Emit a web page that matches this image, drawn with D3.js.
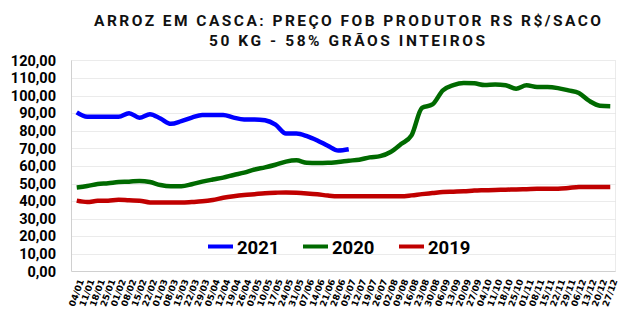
<!DOCTYPE html>
<html>
<head>
<meta charset="utf-8">
<script src="https://cdn.jsdelivr.net/npm/d3@7"></script>
<style>
  html, body { margin: 0; padding: 0; background: #fff; }
  svg { display: block; }
</style>
</head>
<body>
<svg id="chart" width="644" height="329"></svg>
<script>
// Weekly dates (dd/mm)
const weeks = ["04/01","11/01","18/01","25/01","01/02","08/02","15/02","22/02","01/03","08/03","15/03","22/03","29/03","05/04","12/04","19/04","26/04","03/05","10/05","17/05","24/05","31/05","07/06","14/06","21/06","28/06","05/07","12/07","19/07","26/07","02/08","09/08","16/08","23/08","30/08","06/09","13/09","20/09","27/09","04/10","11/10","18/10","25/10","01/11","08/11","15/11","22/11","29/11","06/12","13/12","20/12","27/12"];

// R$ per 50 kg sack
const price2021 = [90.5,88,88,88,88,90,87.5,89.5,87,84,85.5,87.5,89,89,89,87.5,86.5,86.5,86,83.5,78.5,78.5,77,74.5,71.5,68.8,69.5];
const price2020 = [47.8,48.6,49.8,50.2,50.9,51.1,51.5,50.9,49.2,48.5,48.5,49.6,51.1,52.3,53.4,54.9,56.2,58,59.2,60.7,62.5,63.2,61.8,61.7,61.8,62.3,63,63.6,64.9,65.6,68,72.5,77.4,93,95,103,106,107.2,107,106,106.4,105.9,104,105.9,104.9,104.9,104.3,103,101.5,97,94.3,94];
const price2019 = [40.3,39.5,40.2,40.3,40.8,40.5,40.3,39.3,39.2,39.2,39.2,39.5,39.9,40.7,41.9,42.8,43.5,44,44.5,44.8,45,44.8,44.4,43.9,43.2,42.8,42.8,42.8,42.8,42.8,42.8,42.8,43.3,44,44.6,45.2,45.4,45.6,46,46.2,46.4,46.5,46.7,46.8,47,47,47.1,47.5,48,48.1,48.1,48.1];

const yTicks = [0,10,20,30,40,50,60,70,80,90,100,110,120];

const series = [
  { name: "2021", values: price2021, color: "#0000ff" },
  { name: "2020", values: price2020, color: "#006a00" },
  { name: "2019", values: price2019, color: "#c00000" }
];

const svg = d3.select("#chart");
const plot = { left: 71.5, right: 615.5, top: 60.5, bottom: 271.5 };

const x = d3.scalePoint().domain(weeks).range([plot.left, plot.right]).padding(0.5);
const y = d3.scaleLinear().domain([0, 120]).range([plot.bottom, plot.top]);

// Title
const title = svg.append("g")
  .attr("font-family", "Roboto, 'Liberation Sans', sans-serif")
  .attr("font-weight", 700)
  .attr("font-size", 15.5)
  .attr("fill", "#111");
title.append("text").attr("x", 94).attr("y", 26)
  .attr("textLength", 507).attr("lengthAdjust", "spacing")
  .text("ARROZ EM CASCA: PREÇO FOB PRODUTOR RS R$/SACO");
title.append("text").attr("x", 209).attr("y", 46)
  .attr("textLength", 276).attr("lengthAdjust", "spacing")
  .text("50 KG - 58% GRÃOS INTEIROS");

// Horizontal gridlines
svg.append("g")
  .selectAll("line")
  .data(yTicks.filter(d => d > 0 && d < 120))
  .join("line")
  .attr("x1", plot.left).attr("x2", plot.right)
  .attr("y1", d => Math.round(y(d)) + 0.5).attr("y2", d => Math.round(y(d)) + 0.5)
  .attr("stroke", "#ebebeb").attr("stroke-width", 1);

// Plot frame: dotted top/right, solid left/bottom
svg.append("line").attr("x1", plot.left).attr("x2", plot.right).attr("y1", plot.top).attr("y2", plot.top)
  .attr("stroke", "#d6d6d6").attr("stroke-dasharray", "1,1");
svg.append("line").attr("x1", plot.right).attr("x2", plot.right).attr("y1", plot.top).attr("y2", plot.bottom)
  .attr("stroke", "#d6d6d6").attr("stroke-dasharray", "1,1");
svg.append("line").attr("x1", plot.left).attr("x2", plot.left).attr("y1", plot.top).attr("y2", plot.bottom)
  .attr("stroke", "#d0d0d0");
svg.append("line").attr("x1", plot.left).attr("x2", plot.right).attr("y1", plot.bottom).attr("y2", plot.bottom)
  .attr("stroke", "#d0d0d0");

// Y axis labels
const yAxis = d3.axisLeft(y).tickValues(yTicks).tickSize(0).tickPadding(0)
  .tickFormat(d => d3.format(".2f")(d).replace(".", ","));
const gy = svg.append("g").attr("transform", `translate(56,0)`).call(yAxis);
gy.select(".domain").remove();
gy.selectAll("text")
  .attr("font-family", "Roboto, 'Liberation Sans', sans-serif")
  .attr("font-weight", 700)
  .attr("font-size", 14.5)
  .attr("fill", "#000");

// X axis labels (rotated)
const xAxis = d3.axisBottom(x).tickSize(0).tickPadding(0);
const gx = svg.append("g").attr("transform", `translate(0,${plot.bottom})`).call(xAxis);
gx.select(".domain").remove();
gx.selectAll("text")
  .attr("font-family", "'DejaVu Sans', Verdana, sans-serif")
  .attr("font-weight", 700)
  .attr("font-size", 9)
  .attr("fill", "#000")
  .attr("text-anchor", "end")
  .attr("dy", null)
  .attr("y", 0)
  .attr("transform", "translate(7,9) rotate(-70)");

// Lines
const line = d3.line()
  .x((d, i) => x(weeks[i]))
  .y(d => y(d))
  .curve(d3.curveMonotoneX);

svg.append("g").selectAll("path")
  .data(series.slice().reverse())
  .join("path")
  .attr("d", d => line(d.values))
  .attr("fill", "none")
  .attr("stroke", d => d.color)
  .attr("stroke-width", 4.5)
  .attr("stroke-linejoin", "round");

// Legend
const legendX = [208, 303, 399];
const legend = svg.append("g").selectAll("g")
  .data(series)
  .join("g")
  .attr("transform", (d, i) => `translate(${legendX[i]},0)`);
legend.append("line")
  .attr("x1", 0).attr("x2", 25).attr("y1", 246.5).attr("y2", 246.5)
  .attr("stroke", d => d.color).attr("stroke-width", 4);
legend.append("text")
  .attr("x", 29).attr("y", 254)
  .attr("font-family", "Roboto, 'Liberation Sans', sans-serif")
  .attr("font-weight", 700)
  .attr("font-size", 18.5)
  .attr("fill", "#000")
  .text(d => d.name);
</script>
</body>
</html>
